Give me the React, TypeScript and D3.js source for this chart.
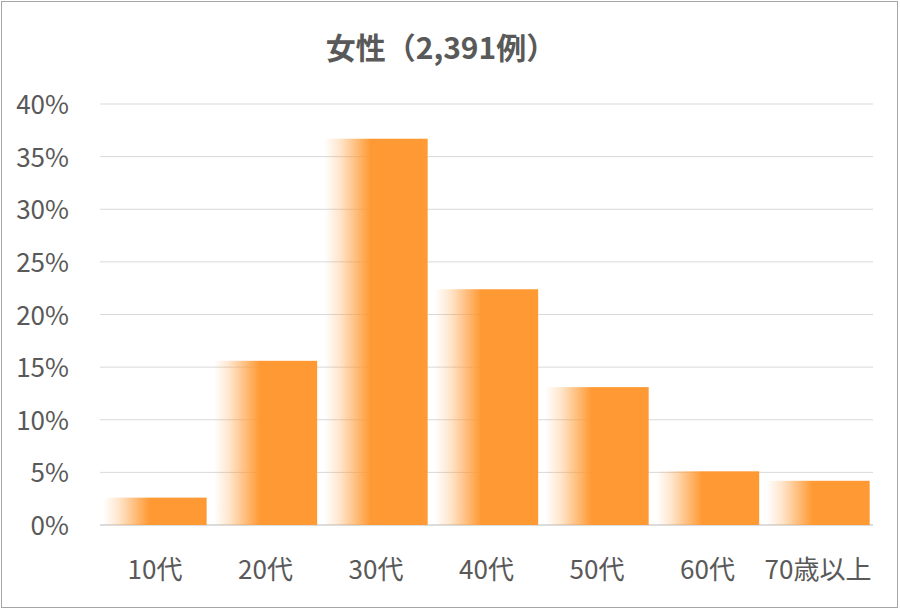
import React from "react";
import * as d3 from "d3";

const categories = ["10代", "20代", "30代", "40代", "50代", "60代", "70歳以上"];
const values = [2.6, 15.6, 36.7, 22.4, 13.1, 5.1, 4.2];
const yTicks = [0, 5, 10, 15, 20, 25, 30, 35, 40];
const title = "女性（2,391例）";

const W = 900;
const H = 610;
const FONT = "'Noto Sans CJK JP', 'Noto Sans', sans-serif";

export default function App() {
  const x = d3.scaleBand<string>().domain(categories).range([100, 873]).paddingInner(0.065).paddingOuter(0.03);
  const y = d3.scaleLinear().domain([0, 40]).range([525, 104]);

  return (
    <svg width={W} height={H} style={{ position: "absolute", left: 0, top: 0 }} fontFamily={FONT}>
      <defs>
        <linearGradient id="barGrad" x1="0" x2="1" y1="0" y2="0">
          <stop offset="0" stopColor="#FF9933" stopOpacity={0} />
          <stop offset="0.15" stopColor="#FF9933" stopOpacity={0.25} />
          <stop offset="0.45" stopColor="#FF9933" stopOpacity={1} />
          <stop offset="1" stopColor="#FF9933" stopOpacity={1} />
        </linearGradient>
      </defs>
      <rect x={0} y={0} width={W} height={H} fill="#fff" />
      <rect x={1.5} y={1.5} width={W - 4} height={H - 4} fill="none" stroke="#a6a6a6" strokeWidth={1} />
      <text x={441} y={48} dy="0.35em" textAnchor="middle" fontSize={30} fontWeight="bold" fill="#595959">
        {title}
      </text>
      {yTicks.map((t) => (
        <g key={t}>
          <line x1={100} x2={873} y1={y(t)} y2={y(t)} stroke={t === 0 ? "#d0d0d0" : "#d9d9d9"} strokeWidth={t === 0 ? 1.5 : 1} />
          <text x={69} y={y(t) + 1} dy="0.35em" textAnchor="end" fontSize={26} fill="#595959">
            {t}%
          </text>
        </g>
      ))}
      {categories.map((c, i) => (
        <rect
          key={c}
          x={x(c)!}
          y={y(values[i])}
          width={x.bandwidth()}
          height={y(0) - y(values[i])}
          fill="url(#barGrad)"
        />
      ))}
      {categories.map((c) => (
        <text key={c} x={x(c)! + x.bandwidth() / 2} y={570} dy="0.35em" textAnchor="middle" fontSize={26} fill="#595959">
          {c}
        </text>
      ))}
    </svg>
  );
}
